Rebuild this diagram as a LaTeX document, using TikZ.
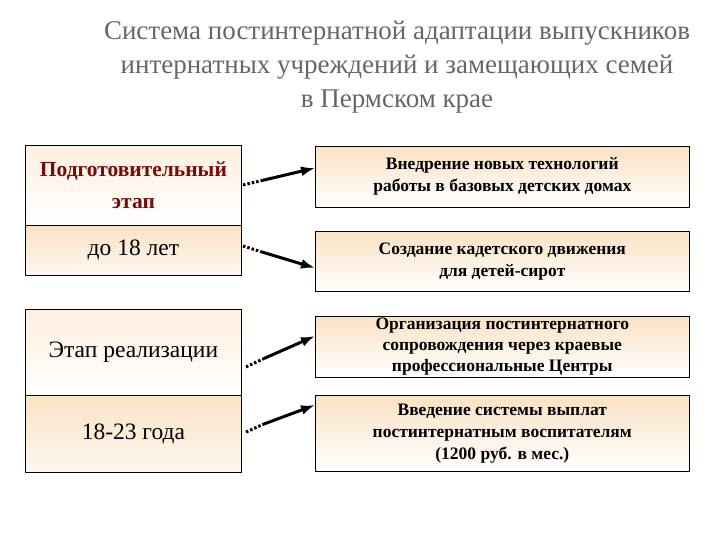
\documentclass[tikz,border=0pt]{standalone}
\usepackage{fontspec}
\setmainfont{Liberation Serif}
\usetikzlibrary{arrows.meta}
\definecolor{peach}{RGB}{250,226,196}
\definecolor{darkred}{RGB}{120,10,10}
\begin{document}
\begin{tikzpicture}[x=1pt,y=-1pt,
 lbox/.style={draw=black,line width=0.8pt,top color=peach!55,bottom color=white,minimum width=216pt,inner sep=0pt,align=center,font=\fontsize{23.5}{28}\selectfont},
 rbox/.style={draw=black,line width=0.6pt,top color=peach,bottom color=white,minimum width=374pt,inner sep=0pt,align=center,font=\bfseries\fontsize{17.5}{22}\selectfont},
 con/.style={line width=3pt,-{Latex[length=14pt,width=10pt]}},
 dots/.style={line width=3pt,dash pattern=on 2.5pt off 2pt}]
\useasboundingbox (0,0) rectangle (720,540);
\node[text=gray!80!black,align=center,font=\fontsize{27}{34}\selectfont] (title) at (397,67) {Система постинтернатной адаптации выпускников\\интернатных учреждений и замещающих семей\\в Пермском крае};
\node[lbox,minimum height=80pt,anchor=north west,text=darkred,font=\bfseries\fontsize{21.5}{32}\selectfont] (l1) at (25,145) {Подготовительный\\этап};
\node[lbox,minimum height=50pt,anchor=north west,top color=peach,bottom color=peach!25] (l2) at (25,225) {до 18 лет};
\node[lbox,minimum height=86pt,anchor=north west] (l3) at (25,309) {Этап реализации};
\node[lbox,minimum height=77pt,anchor=north west,top color=peach,bottom color=peach!25] (l4) at (25,395) {18-23 года};
\node[rbox,minimum height=61pt,anchor=north west] (r1) at (315,146) {Внедрение новых технологий\\работы в базовых детских домах};
\node[rbox,minimum height=60pt,anchor=north west] (r2) at (315,231) {Создание кадетского движения\\для детей-сирот};
\node[rbox,minimum height=61pt,anchor=north west,font=\bfseries\fontsize{17.5}{21}\selectfont] (r3) at (315,316) {Организация постинтернатного\\сопровождения через краевые\\профессиональные Центры};
\node[rbox,minimum height=76pt,anchor=north west,font=\bfseries\fontsize{17.5}{22}\selectfont] (r4) at (315,395) {Введение системы выплат\\постинтернатным воспитателям\\(1200 руб. в мес.)};
\coordinate (a1) at (243,185); \coordinate (b1) at (262,180.5);
\coordinate (a2) at (243,246); \coordinate (b2) at (262,252);
\coordinate (a3) at (246,367); \coordinate (b3) at (264,358.5);
\coordinate (a4) at (246,432); \coordinate (b4) at (264,424);
\draw[dots] (a1)--(b1); \draw[con] (b1)--(r1.west|-0,168);
\draw[dots] (a2)--(b2); \draw[con] (b2)--(r2.west|-0,268);
\draw[dots] (a3)--(b3); \draw[con] (b3)--(r3.west|-0,336);
\draw[dots] (a4)--(b4); \draw[con] (b4)--(r4.west|-0,405);
\end{tikzpicture}
\end{document}
